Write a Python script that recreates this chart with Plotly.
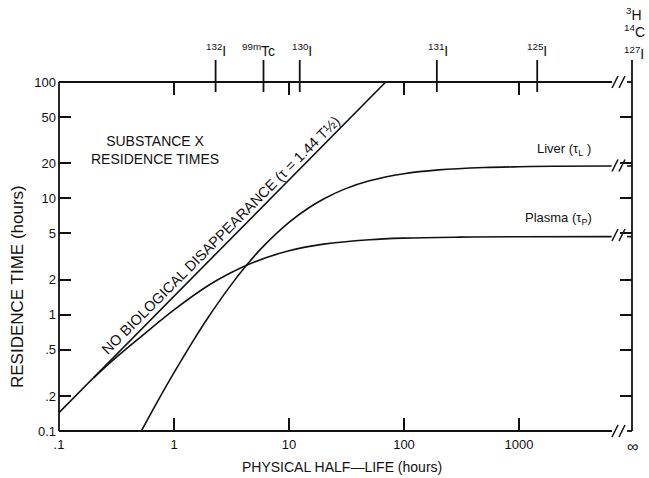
import numpy as np
import plotly.graph_objects as go

# ---------------- data ----------------
# line of no biological disappearance: tau = 1.44 T1/2
line_T = [0.1, 1, 10, 69.4]
line_tau = [0.144, 1.44, 14.4, 100]

# Liver residence time (None = axis break, values after it are at "infinity")
liver_T = [0.52, 0.7, 1, 1.5, 2, 3, 4.3, 6, 10, 15, 20, 30, 50, 100, 200, 500, 1000, 2000, 6400, None, 8700, 9620]
liver_tau = [0.100, 0.171, 0.317, 0.617, 0.96, 1.70, 2.68, 3.88, 6.21, 8.34, 9.88, 11.94, 14.14, 16.27, 17.55, 18.40, 18.69, 18.85, 18.95, None, 18.97, 18.97]

# Plasma residence time
plasma_T = [0.2, 0.3, 0.5, 1, 2, 3, 5, 10, 20, 50, 100, 300, 1000, 6400, None, 8700, 9620]
plasma_tau = [0.286, 0.412, 0.63, 1.10, 1.79, 2.25, 2.84, 3.54, 4.04, 4.41, 4.55, 4.64, 4.68, 4.69, None, 4.69, 4.69]

x_tickvals = [0.1, 1, 10, 100, 1000]
x_ticktext = [".1", "1", "10", "100", "1000"]
y_tickvals = [0.1, 0.2, 0.5, 1, 2, 5, 10, 20, 50, 100]
y_ticktext = ["0.1", ".2", ".5", "1", "2", "5", "10", "20", "50", "100"]

iso_labels = ["<sup>132</sup>I", "<sup>99m</sup>Tc", "<sup>130</sup>I", "<sup>131</sup>I", "<sup>125</sup>I"]
iso_halflife = [2.3, 6.0, 12.4, 193, 1440]
iso_shift = [0, -5, 2, 1, 0]
inf_labels = ["<sup>3</sup>H", "<sup>14</sup>C", "<sup>127</sup>I"]

# ---------------- figure ----------------
W, H = 649, 478
L, R, T, B = 59, 17, 82, 47
pw, ph = W - L - R, H - T - B
XMAX = -1 + pw / 115.0
FONT = "Liberation Sans, Arial, sans-serif"
INK = "#111111"

def px2paper_x(px):
    return (px - L) / pw

def py2paper_y(py):
    return (H - B - py) / ph

fig = go.Figure()
lw = 1.6
fig.add_trace(go.Scatter(x=line_T, y=line_tau, mode="lines",
                         line=dict(color=INK, width=lw), showlegend=False))
fig.add_trace(go.Scatter(x=liver_T, y=liver_tau, mode="lines", connectgaps=False,
                         line=dict(color=INK, width=lw, shape="spline"), showlegend=False))
fig.add_trace(go.Scatter(x=plasma_T, y=plasma_tau, mode="lines", connectgaps=False,
                         line=dict(color=INK, width=lw, shape="spline"), showlegend=False))

axis_common = dict(showgrid=False, zeroline=False, showline=False, ticks="inside",
                   tickwidth=1.5, tickcolor=INK, mirror="ticks",
                   tickfont=dict(family=FONT, size=13, color=INK))
fig.update_xaxes(type="log", range=[-1, XMAX], tickvals=x_tickvals, ticktext=x_ticktext,
                 ticklen=13, ticklabelstandoff=4, **axis_common)
fig.update_yaxes(type="log", range=[-1, 2], tickvals=y_tickvals, ticktext=y_ticktext,
                 ticklen=12, ticklabelstandoff=2, **axis_common)

shapes = []
aw = 1.8
gap0, gap1 = px2paper_x(612), px2paper_x(627)
def seg(x0, y0, x1, y1, w=aw):
    shapes.append(dict(type="line", xref="paper", yref="paper", x0=x0, y0=y0, x1=x1, y1=y1,
                       line=dict(color=INK, width=w), layer="above"))
# axis frame with breaks
seg(0, 0, 0, 1)
seg(1, 0, 1, py2paper_y(60))
seg(0, 1, gap0, 1)
seg(gap1, 1, 1, 1)
seg(0, 0, gap0, 0)
seg(gap1, 0, 1, 0)
# break marks "//"
for yy in [82, 431, 165.5, 235]:
    for xx in [615, 622]:
        seg(px2paper_x(xx - 3), py2paper_y(yy + 6), px2paper_x(xx + 3), py2paper_y(yy - 6), w=1.5)
# isotope ticks on top axis
for hl in iso_halflife:
    shapes.append(dict(type="line", xref="x", yref="paper", x0=hl, x1=hl,
                       y0=py2paper_y(92), y1=py2paper_y(60),
                       line=dict(color=INK, width=1.8), layer="above"))

annotations = []
for lab, hl, sh in zip(iso_labels, iso_halflife, iso_shift):
    annotations.append(dict(x=np.log10(hl), y=py2paper_y(61), xref="x", yref="paper",
                            text=lab, showarrow=False, xanchor="center", yanchor="bottom",
                            xshift=sh, font=dict(family=FONT, size=14, color=INK)))
for lab, yy in zip(inf_labels, [14, 31, 53]):
    annotations.append(dict(x=1, y=py2paper_y(yy), xref="paper", yref="paper", text=lab,
                            showarrow=False, xanchor="center", yanchor="middle", xshift=2,
                            font=dict(family=FONT, size=14, color=INK)))
# infinity tick label
annotations.append(dict(x=1, y=py2paper_y(447), xref="paper", yref="paper", text="∞",
                        showarrow=False, xanchor="center", yanchor="middle",
                        font=dict(family=FONT, size=16, color=INK)))
# axis titles
annotations.append(dict(x=px2paper_x(342), y=py2paper_y(467), xref="paper", yref="paper",
                        text="PHYSICAL HALF—LIFE (hours)", showarrow=False,
                        xanchor="center", yanchor="middle",
                        font=dict(family=FONT, size=14, color=INK)))
annotations.append(dict(x=px2paper_x(17), y=py2paper_y(287), xref="paper", yref="paper",
                        text="RESIDENCE TIME (hours)", showarrow=False, textangle=-90,
                        xanchor="center", yanchor="middle",
                        font=dict(family=FONT, size=17, color=INK)))
# in-plot texts
annotations.append(dict(x=-1 + (155 - L) / 115.0, y=-1 + (H - B - 150) / (ph / 3.0),
                        xref="x", yref="y", text="SUBSTANCE X<br>RESIDENCE TIMES",
                        showarrow=False, xanchor="center", yanchor="middle", align="center",
                        font=dict(family=FONT, size=14, color=INK)))
annotations.append(dict(x=-1 + (221 - L) / 115.0, y=-1 + (H - B - 235) / (ph / 3.0),
                        xref="x", yref="y", text="NO BIOLOGICAL DISAPPEARANCE (τ = 1.44 T½)",
                        showarrow=False, xanchor="center", yanchor="middle", textangle=-45,
                        font=dict(family=FONT, size=14.5, color=INK)))
annotations.append(dict(x=-1 + (593 - L) / 115.0, y=-1 + (H - B - 160) / (ph / 3.0),
                        xref="x", yref="y", text="Liver (τ<sub>L</sub> )",
                        showarrow=False, xanchor="right", yanchor="bottom",
                        font=dict(family=FONT, size=13, color=INK)))
annotations.append(dict(x=-1 + (594 - L) / 115.0, y=-1 + (H - B - 229) / (ph / 3.0),
                        xref="x", yref="y", text="Plasma (τ<sub>P</sub>)",
                        showarrow=False, xanchor="right", yanchor="bottom",
                        font=dict(family=FONT, size=13, color=INK)))

fig.update_layout(width=W, height=H, autosize=False,
                  margin=dict(l=L, r=R, t=T, b=B, pad=0),
                  paper_bgcolor="white", plot_bgcolor="white",
                  shapes=shapes, annotations=annotations,
                  font=dict(family=FONT, color=INK))

fig.write_html("out.html")
